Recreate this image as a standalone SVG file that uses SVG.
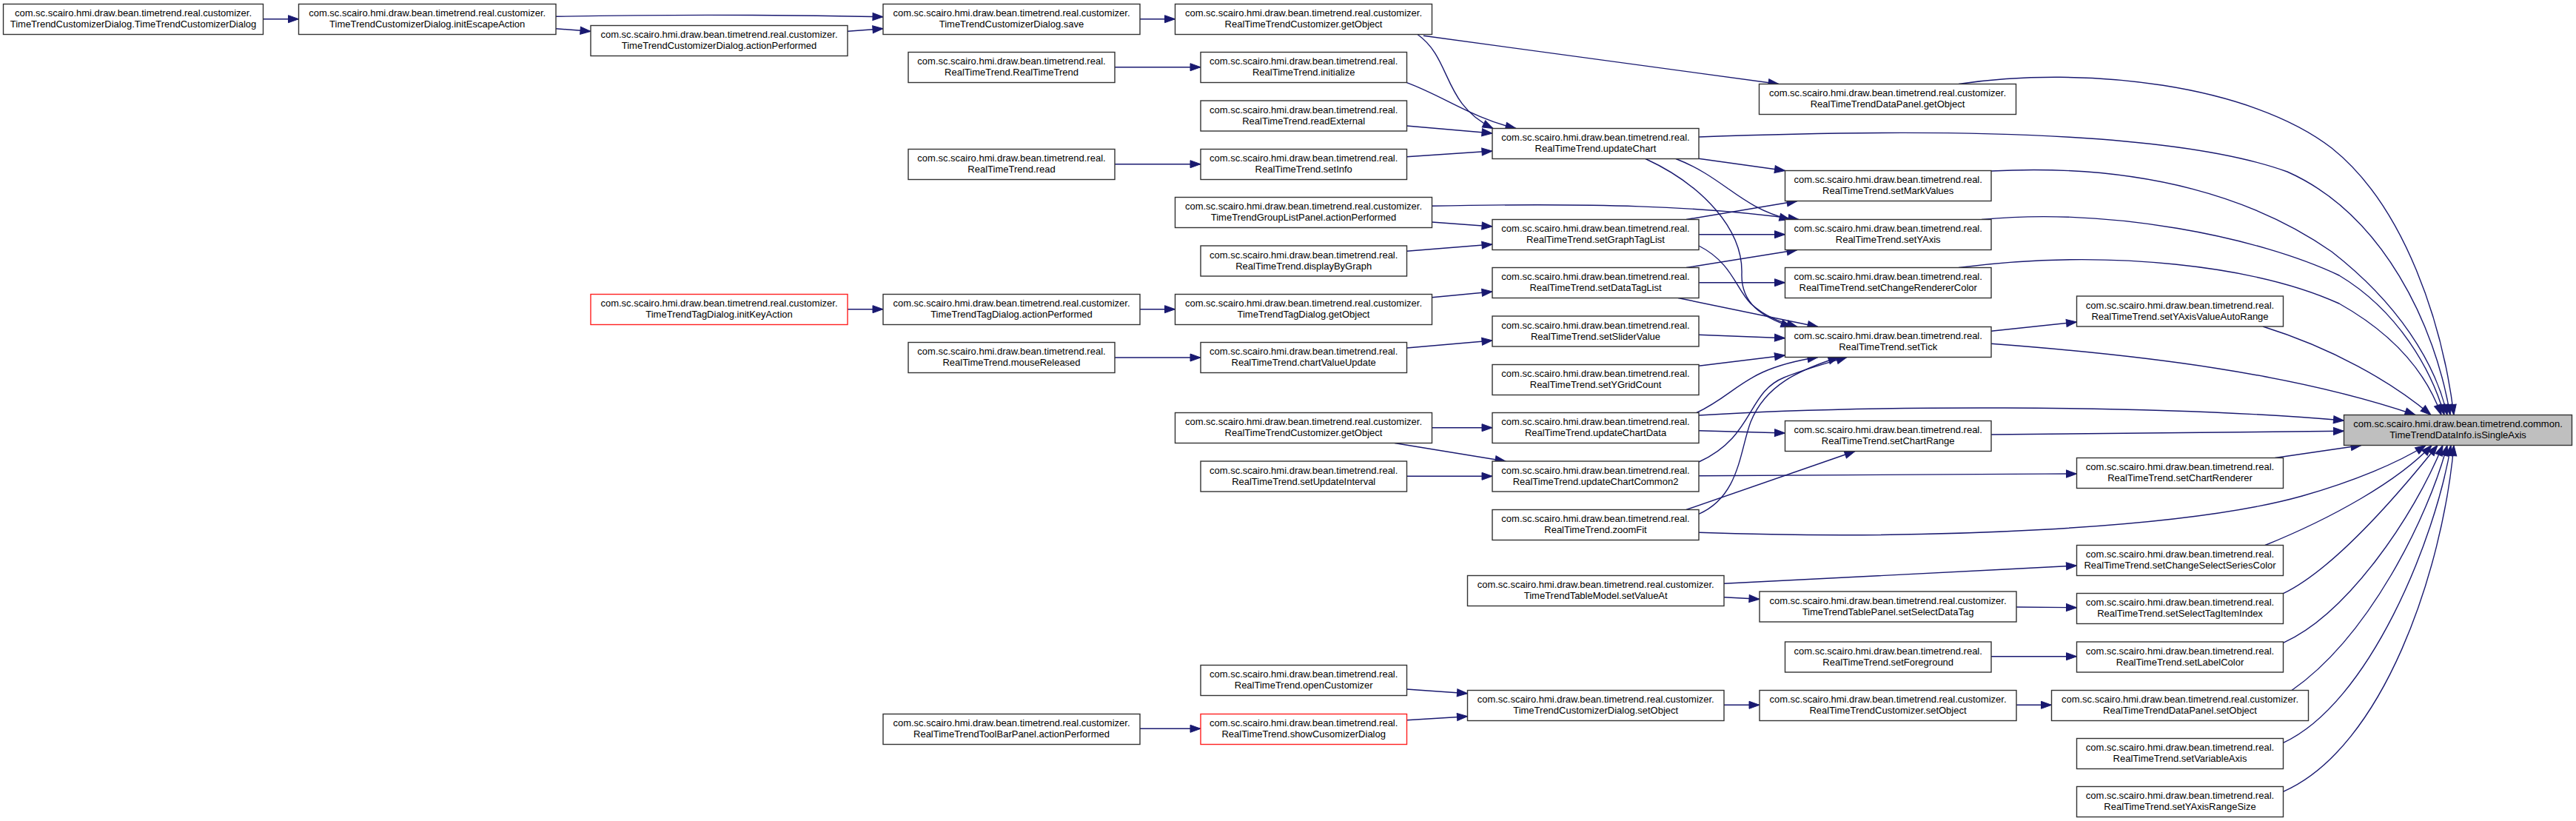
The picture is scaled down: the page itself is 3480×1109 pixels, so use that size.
<svg xmlns="http://www.w3.org/2000/svg" width="3480" height="1109" viewBox="0 0 3480 1109">
<style>
.n rect{fill:#fff;stroke:#333;stroke-width:1.4}
.n.red rect{stroke:#ff2020}
.n.root rect{fill:#bfbfbf}
.n text{font-family:"Liberation Sans",Arial,sans-serif;font-size:13px;fill:#000;text-anchor:middle}
.e path{fill:none;stroke:#191970;stroke-width:1.4}
</style>
<defs>
<marker id="ah" markerUnits="userSpaceOnUse" markerWidth="14" markerHeight="10" refX="14" refY="5" orient="auto" overflow="visible">
<path d="M0,0 L14,5 L0,10 z" fill="#191970" stroke="#191970" stroke-width="1"/>
</marker>
</defs>
<rect width="3480" height="1109" fill="#fff"/>
<g id="connectors" class="e" marker-end="url(#ah)">
<path marker-end="url(#ah)" d="M355.5,25.7 L403.5,25.7"/>
<path marker-end="url(#ah)" d="M751,22.3 C900,19.5 1050,20 1193,22.7"/>
<path marker-end="url(#ah)" d="M751,38.7 L798,42.3"/>
<path marker-end="url(#ah)" d="M1145,42.3 L1193,38.7"/>
<path marker-end="url(#ah)" d="M1540,25.7 L1587.5,25.7"/>
<path marker-end="url(#ah)" d="M1506,90.7 L1622,90.7"/>
<path marker-end="url(#ah)" d="M1506,221.7 L1622,221.7"/>
<path marker-end="url(#ah)" d="M1915,46.5 C1962,80 1948,140 2017,173.5"/>
<path marker-end="url(#ah)" d="M1923,48.3 L2403,113.5"/>
<path marker-end="url(#ah)" d="M1900.5,111.7 C1950,130 1990,160 2048,173.5"/>
<path marker-end="url(#ah)" d="M1900.5,170 L2016,180"/>
<path marker-end="url(#ah)" d="M1900.5,211.7 L2016,204"/>
<path marker-end="url(#ah)" d="M1934.5,300 L2016,306"/>
<path marker-end="url(#ah)" d="M1934.5,278.3 C2150,274 2300,278 2430,296.5"/>
<path marker-end="url(#ah)" d="M1900.5,339.3 L2016,330"/>
<path marker-end="url(#ah)" d="M2295,185 C2700,170 2960,185 3090,232 C3220,290 3290,440 3310,560.5"/>
<path marker-end="url(#ah)" d="M2295,214.3 L2411.5,230.5"/>
<path marker-end="url(#ah)" d="M2264,214.5 C2330,240 2350,280 2418,296.5"/>
<path marker-end="url(#ah)" d="M2223,214.5 C2300,250 2355,310 2353,370 C2352,410 2380,428 2420,441.5"/>
<path marker-end="url(#ah)" d="M2278,296.5 L2428,271.5"/>
<path marker-end="url(#ah)" d="M2295,316.7 L2411.5,316.7"/>
<path marker-end="url(#ah)" d="M2295,332 C2340,355 2345,390 2365,410 C2385,428 2405,435 2428,441.5"/>
<path marker-end="url(#ah)" d="M2278,361.5 L2428,337.5"/>
<path marker-end="url(#ah)" d="M2295,381.7 L2411.5,381.7"/>
<path marker-end="url(#ah)" d="M2267,402.5 L2456,441.5"/>
<path marker-end="url(#ah)" d="M1934.5,401.7 L2016,394"/>
<path marker-end="url(#ah)" d="M1145,417.7 L1193,417.7"/>
<path marker-end="url(#ah)" d="M1540,417.7 L1587.5,417.7"/>
<path marker-end="url(#ah)" d="M1506,483 L1622,483"/>
<path marker-end="url(#ah)" d="M1900.5,470 L2016,460"/>
<path marker-end="url(#ah)" d="M2295,452.3 L2411.5,456.7"/>
<path marker-end="url(#ah)" d="M2295,494.3 L2411.5,480"/>
<path marker-end="url(#ah)" d="M2292,557.5 C2350,530 2355,498 2456,482.5"/>
<path marker-end="url(#ah)" d="M2295,561 C2500,548 2900,545 3166.5,568"/>
<path marker-end="url(#ah)" d="M2295,581.7 L2411.5,585"/>
<path marker-end="url(#ah)" d="M2295,624 C2370,590 2360,530 2410,510 C2440,498 2470,490 2495,482.5"/>
<path marker-end="url(#ah)" d="M2295,642.7 C2500,641 2650,640.5 2805.5,640"/>
<path marker-end="url(#ah)" d="M2295,694.3 C2350,670 2350,610 2365,570 C2385,520 2430,500 2484,482.5"/>
<path marker-end="url(#ah)" d="M2278,688.5 L2506,609.5"/>
<path marker-end="url(#ah)" d="M2295,719.3 C2600,730 2950,715 3110,670 C3180,650 3240,625 3277,601.5"/>
<path marker-end="url(#ah)" d="M1934.5,577.7 L2016,577.7"/>
<path marker-end="url(#ah)" d="M1884,598.5 L2034,623"/>
<path marker-end="url(#ah)" d="M1900.5,643.3 L2016,643.3"/>
<path marker-end="url(#ah)" d="M2690,447.3 L2805.5,435"/>
<path marker-end="url(#ah)" d="M2690,464.3 C2900,480 3100,505 3263,560.5"/>
<path marker-end="url(#ah)" d="M2690,587 L3166.5,582.3"/>
<path marker-end="url(#ah)" d="M3073.4,618.5 L3190,601.5"/>
<path marker-end="url(#ah)" d="M3057,441 C3150,470 3230,515 3284,560.5"/>
<path marker-end="url(#ah)" d="M2646,113.5 C2820,88 3040,115 3150,200 C3250,280 3300,440 3315,560.5"/>
<path marker-end="url(#ah)" d="M2690,231 C2900,220 3050,270 3150,340 C3240,410 3290,490 3306,560.5"/>
<path marker-end="url(#ah)" d="M2677,296.5 C2850,280 3050,320 3160,372 C3240,420 3285,500 3302,560.5"/>
<path marker-end="url(#ah)" d="M2646,361.5 C2850,335 3050,360 3160,410 C3240,455 3280,510 3298,560.5"/>
<path marker-end="url(#ah)" d="M2329,788.3 C2500,780 2650,772 2805.5,764"/>
<path marker-end="url(#ah)" d="M2329,806.7 L2377,809.3"/>
<path marker-end="url(#ah)" d="M2724,820 L2805.5,820.7"/>
<path marker-end="url(#ah)" d="M2690,886.7 L2805.5,886.7"/>
<path marker-end="url(#ah)" d="M1900.5,931 L1982.5,936.7"/>
<path marker-end="url(#ah)" d="M1900.5,972.7 L1982.5,967.7"/>
<path marker-end="url(#ah)" d="M1540,984.3 L1622,984.3"/>
<path marker-end="url(#ah)" d="M2329,952.3 L2377,952.3"/>
<path marker-end="url(#ah)" d="M2724,952.3 L2771.5,952.3"/>
<path marker-end="url(#ah)" d="M3060,736.5 C3150,700 3240,650 3285,601.5"/>
<path marker-end="url(#ah)" d="M3084.5,801.7 C3150,770 3230,680 3293,601.5"/>
<path marker-end="url(#ah)" d="M3084.5,868.3 C3170,830 3260,700 3300,601.5"/>
<path marker-end="url(#ah)" d="M3096,932.5 C3200,860 3280,700 3306,601.5"/>
<path marker-end="url(#ah)" d="M3084.5,1003.3 C3200,950 3290,730 3311,601.5"/>
<path marker-end="url(#ah)" d="M3084.5,1069.3 C3220,1010 3300,770 3315,601.5"/>
</g>
<g id="n_ctor" class="n"><rect x="4.5" y="5.5" width="351" height="41"/><text x="180" y="22">com.sc.scairo.hmi.draw.bean.timetrend.real.customizer.</text><text x="180" y="37">TimeTrendCustomizerDialog.TimeTrendCustomizerDialog</text></g>
<g id="n_initEscape" class="n"><rect x="403.5" y="5.5" width="347.5" height="41"/><text x="577.2" y="22">com.sc.scairo.hmi.draw.bean.timetrend.real.customizer.</text><text x="577.2" y="37">TimeTrendCustomizerDialog.initEscapeAction</text></g>
<g id="n_cdAction" class="n"><rect x="798" y="34.5" width="347" height="41"/><text x="971.5" y="51">com.sc.scairo.hmi.draw.bean.timetrend.real.customizer.</text><text x="971.5" y="66">TimeTrendCustomizerDialog.actionPerformed</text></g>
<g id="n_initKeyAction" class="n red"><rect x="798" y="397.5" width="347" height="41"/><text x="971.5" y="414">com.sc.scairo.hmi.draw.bean.timetrend.real.customizer.</text><text x="971.5" y="429">TimeTrendTagDialog.initKeyAction</text></g>
<g id="n_save" class="n"><rect x="1193" y="5.5" width="347" height="41"/><text x="1366.5" y="22">com.sc.scairo.hmi.draw.bean.timetrend.real.customizer.</text><text x="1366.5" y="37">TimeTrendCustomizerDialog.save</text></g>
<g id="n_rttCtor" class="n"><rect x="1227" y="70.5" width="279" height="41"/><text x="1366.5" y="87">com.sc.scairo.hmi.draw.bean.timetrend.real.</text><text x="1366.5" y="102">RealTimeTrend.RealTimeTrend</text></g>
<g id="n_read" class="n"><rect x="1227" y="201.5" width="279" height="41"/><text x="1366.5" y="218">com.sc.scairo.hmi.draw.bean.timetrend.real.</text><text x="1366.5" y="233">RealTimeTrend.read</text></g>
<g id="n_tagDlgAction" class="n"><rect x="1193" y="397.5" width="347" height="41"/><text x="1366.5" y="414">com.sc.scairo.hmi.draw.bean.timetrend.real.customizer.</text><text x="1366.5" y="429">TimeTrendTagDialog.actionPerformed</text></g>
<g id="n_mouseReleased" class="n"><rect x="1227" y="462.5" width="279" height="41"/><text x="1366.5" y="479">com.sc.scairo.hmi.draw.bean.timetrend.real.</text><text x="1366.5" y="494">RealTimeTrend.mouseReleased</text></g>
<g id="n_toolbarAction" class="n"><rect x="1193" y="964.5" width="347" height="41"/><text x="1366.5" y="981">com.sc.scairo.hmi.draw.bean.timetrend.real.customizer.</text><text x="1366.5" y="996">RealTimeTrendToolBarPanel.actionPerformed</text></g>
<g id="n_custGetObject1" class="n"><rect x="1587.5" y="5.5" width="347" height="41"/><text x="1761" y="22">com.sc.scairo.hmi.draw.bean.timetrend.real.customizer.</text><text x="1761" y="37">RealTimeTrendCustomizer.getObject</text></g>
<g id="n_initialize" class="n"><rect x="1622" y="70.5" width="278.5" height="41"/><text x="1761.2" y="87">com.sc.scairo.hmi.draw.bean.timetrend.real.</text><text x="1761.2" y="102">RealTimeTrend.initialize</text></g>
<g id="n_readExternal" class="n"><rect x="1622" y="136" width="278.5" height="41"/><text x="1761.2" y="152.5">com.sc.scairo.hmi.draw.bean.timetrend.real.</text><text x="1761.2" y="167.5">RealTimeTrend.readExternal</text></g>
<g id="n_setInfo" class="n"><rect x="1622" y="201.5" width="278.5" height="41"/><text x="1761.2" y="218">com.sc.scairo.hmi.draw.bean.timetrend.real.</text><text x="1761.2" y="233">RealTimeTrend.setInfo</text></g>
<g id="n_groupListAction" class="n"><rect x="1587.5" y="266.5" width="347" height="41"/><text x="1761" y="283">com.sc.scairo.hmi.draw.bean.timetrend.real.customizer.</text><text x="1761" y="298">TimeTrendGroupListPanel.actionPerformed</text></g>
<g id="n_displayByGraph" class="n"><rect x="1622" y="332" width="278.5" height="41"/><text x="1761.2" y="348.5">com.sc.scairo.hmi.draw.bean.timetrend.real.</text><text x="1761.2" y="363.5">RealTimeTrend.displayByGraph</text></g>
<g id="n_tagDlgGetObject" class="n"><rect x="1587.5" y="397.5" width="347" height="41"/><text x="1761" y="414">com.sc.scairo.hmi.draw.bean.timetrend.real.customizer.</text><text x="1761" y="429">TimeTrendTagDialog.getObject</text></g>
<g id="n_chartValueUpdate" class="n"><rect x="1622" y="462.5" width="278.5" height="41"/><text x="1761.2" y="479">com.sc.scairo.hmi.draw.bean.timetrend.real.</text><text x="1761.2" y="494">RealTimeTrend.chartValueUpdate</text></g>
<g id="n_custGetObject2" class="n"><rect x="1587.5" y="557.5" width="347" height="41"/><text x="1761" y="574">com.sc.scairo.hmi.draw.bean.timetrend.real.customizer.</text><text x="1761" y="589">RealTimeTrendCustomizer.getObject</text></g>
<g id="n_setUpdateInterval" class="n"><rect x="1622" y="623" width="278.5" height="41"/><text x="1761.2" y="639.5">com.sc.scairo.hmi.draw.bean.timetrend.real.</text><text x="1761.2" y="654.5">RealTimeTrend.setUpdateInterval</text></g>
<g id="n_openCustomizer" class="n"><rect x="1622" y="898.5" width="278.5" height="41"/><text x="1761.2" y="915">com.sc.scairo.hmi.draw.bean.timetrend.real.</text><text x="1761.2" y="930">RealTimeTrend.openCustomizer</text></g>
<g id="n_showCusomizerDialog" class="n red"><rect x="1622" y="964.5" width="278.5" height="41"/><text x="1761.2" y="981">com.sc.scairo.hmi.draw.bean.timetrend.real.</text><text x="1761.2" y="996">RealTimeTrend.showCusomizerDialog</text></g>
<g id="n_updateChart" class="n"><rect x="2016" y="173.5" width="279" height="41"/><text x="2155.5" y="190">com.sc.scairo.hmi.draw.bean.timetrend.real.</text><text x="2155.5" y="205">RealTimeTrend.updateChart</text></g>
<g id="n_setGraphTagList" class="n"><rect x="2016" y="296.5" width="279" height="41"/><text x="2155.5" y="313">com.sc.scairo.hmi.draw.bean.timetrend.real.</text><text x="2155.5" y="328">RealTimeTrend.setGraphTagList</text></g>
<g id="n_setDataTagList" class="n"><rect x="2016" y="361.5" width="279" height="41"/><text x="2155.5" y="378">com.sc.scairo.hmi.draw.bean.timetrend.real.</text><text x="2155.5" y="393">RealTimeTrend.setDataTagList</text></g>
<g id="n_setSliderValue" class="n"><rect x="2016" y="427" width="279" height="41"/><text x="2155.5" y="443.5">com.sc.scairo.hmi.draw.bean.timetrend.real.</text><text x="2155.5" y="458.5">RealTimeTrend.setSliderValue</text></g>
<g id="n_setYGridCount" class="n"><rect x="2016" y="492.5" width="279" height="41"/><text x="2155.5" y="509">com.sc.scairo.hmi.draw.bean.timetrend.real.</text><text x="2155.5" y="524">RealTimeTrend.setYGridCount</text></g>
<g id="n_updateChartData" class="n"><rect x="2016" y="557.5" width="279" height="41"/><text x="2155.5" y="574">com.sc.scairo.hmi.draw.bean.timetrend.real.</text><text x="2155.5" y="589">RealTimeTrend.updateChartData</text></g>
<g id="n_updateChartCommon2" class="n"><rect x="2016" y="623" width="279" height="41"/><text x="2155.5" y="639.5">com.sc.scairo.hmi.draw.bean.timetrend.real.</text><text x="2155.5" y="654.5">RealTimeTrend.updateChartCommon2</text></g>
<g id="n_zoomFit" class="n"><rect x="2016" y="688.5" width="279" height="41"/><text x="2155.5" y="705">com.sc.scairo.hmi.draw.bean.timetrend.real.</text><text x="2155.5" y="720">RealTimeTrend.zoomFit</text></g>
<g id="n_tableModelSetValueAt" class="n"><rect x="1982.5" y="777.5" width="346.5" height="41"/><text x="2155.7" y="794">com.sc.scairo.hmi.draw.bean.timetrend.real.customizer.</text><text x="2155.7" y="809">TimeTrendTableModel.setValueAt</text></g>
<g id="n_cdSetObject" class="n"><rect x="1982.5" y="932.5" width="346.5" height="41"/><text x="2155.7" y="949">com.sc.scairo.hmi.draw.bean.timetrend.real.customizer.</text><text x="2155.7" y="964">TimeTrendCustomizerDialog.setObject</text></g>
<g id="n_dataPanelGetObject" class="n"><rect x="2376.5" y="113.5" width="347" height="41"/><text x="2550" y="130">com.sc.scairo.hmi.draw.bean.timetrend.real.customizer.</text><text x="2550" y="145">RealTimeTrendDataPanel.getObject</text></g>
<g id="n_setMarkValues" class="n"><rect x="2411.5" y="230.5" width="278.5" height="41"/><text x="2550.7" y="247">com.sc.scairo.hmi.draw.bean.timetrend.real.</text><text x="2550.7" y="262">RealTimeTrend.setMarkValues</text></g>
<g id="n_setYAxis" class="n"><rect x="2411.5" y="296.5" width="278.5" height="41"/><text x="2550.7" y="313">com.sc.scairo.hmi.draw.bean.timetrend.real.</text><text x="2550.7" y="328">RealTimeTrend.setYAxis</text></g>
<g id="n_setChangeRendererColor" class="n"><rect x="2411.5" y="361.5" width="278.5" height="41"/><text x="2550.7" y="378">com.sc.scairo.hmi.draw.bean.timetrend.real.</text><text x="2550.7" y="393">RealTimeTrend.setChangeRendererColor</text></g>
<g id="n_setTick" class="n"><rect x="2411.5" y="441.5" width="278.5" height="41"/><text x="2550.7" y="458">com.sc.scairo.hmi.draw.bean.timetrend.real.</text><text x="2550.7" y="473">RealTimeTrend.setTick</text></g>
<g id="n_setChartRange" class="n"><rect x="2411.5" y="568.5" width="278.5" height="41"/><text x="2550.7" y="585">com.sc.scairo.hmi.draw.bean.timetrend.real.</text><text x="2550.7" y="600">RealTimeTrend.setChartRange</text></g>
<g id="n_tablePanelSetSelectDataTag" class="n"><rect x="2377" y="799" width="347" height="41"/><text x="2550.5" y="815.5">com.sc.scairo.hmi.draw.bean.timetrend.real.customizer.</text><text x="2550.5" y="830.5">TimeTrendTablePanel.setSelectDataTag</text></g>
<g id="n_setForeground" class="n"><rect x="2411.5" y="867" width="278.5" height="41"/><text x="2550.7" y="883.5">com.sc.scairo.hmi.draw.bean.timetrend.real.</text><text x="2550.7" y="898.5">RealTimeTrend.setForeground</text></g>
<g id="n_custSetObject" class="n"><rect x="2377" y="932.5" width="347" height="41"/><text x="2550.5" y="949">com.sc.scairo.hmi.draw.bean.timetrend.real.customizer.</text><text x="2550.5" y="964">RealTimeTrendCustomizer.setObject</text></g>
<g id="n_setYAxisValueAutoRange" class="n"><rect x="2805.5" y="400" width="279" height="41"/><text x="2945" y="416.5">com.sc.scairo.hmi.draw.bean.timetrend.real.</text><text x="2945" y="431.5">RealTimeTrend.setYAxisValueAutoRange</text></g>
<g id="n_setChartRenderer" class="n"><rect x="2805.5" y="618.5" width="279" height="41"/><text x="2945" y="635">com.sc.scairo.hmi.draw.bean.timetrend.real.</text><text x="2945" y="650">RealTimeTrend.setChartRenderer</text></g>
<g id="n_setChangeSelectSeriesColor" class="n"><rect x="2805.5" y="736.5" width="279" height="41"/><text x="2945" y="753">com.sc.scairo.hmi.draw.bean.timetrend.real.</text><text x="2945" y="768">RealTimeTrend.setChangeSelectSeriesColor</text></g>
<g id="n_setSelectTagItemIndex" class="n"><rect x="2805.5" y="801.5" width="279" height="41"/><text x="2945" y="818">com.sc.scairo.hmi.draw.bean.timetrend.real.</text><text x="2945" y="833">RealTimeTrend.setSelectTagItemIndex</text></g>
<g id="n_setLabelColor" class="n"><rect x="2805.5" y="867" width="279" height="41"/><text x="2945" y="883.5">com.sc.scairo.hmi.draw.bean.timetrend.real.</text><text x="2945" y="898.5">RealTimeTrend.setLabelColor</text></g>
<g id="n_dataPanelSetObject" class="n"><rect x="2771.5" y="932.5" width="347" height="41"/><text x="2945" y="949">com.sc.scairo.hmi.draw.bean.timetrend.real.customizer.</text><text x="2945" y="964">RealTimeTrendDataPanel.setObject</text></g>
<g id="n_setVariableAxis" class="n"><rect x="2805.5" y="997.5" width="279" height="41"/><text x="2945" y="1014">com.sc.scairo.hmi.draw.bean.timetrend.real.</text><text x="2945" y="1029">RealTimeTrend.setVariableAxis</text></g>
<g id="n_setYAxisRangeSize" class="n"><rect x="2805.5" y="1062.5" width="279" height="41"/><text x="2945" y="1079">com.sc.scairo.hmi.draw.bean.timetrend.real.</text><text x="2945" y="1094">RealTimeTrend.setYAxisRangeSize</text></g>
<g id="n_isSingleAxis" class="n root"><rect x="3166.5" y="560.5" width="308" height="41"/><text x="3320.5" y="577">com.sc.scairo.hmi.draw.bean.timetrend.common.</text><text x="3320.5" y="592">TimeTrendDataInfo.isSingleAxis</text></g>
</svg>
